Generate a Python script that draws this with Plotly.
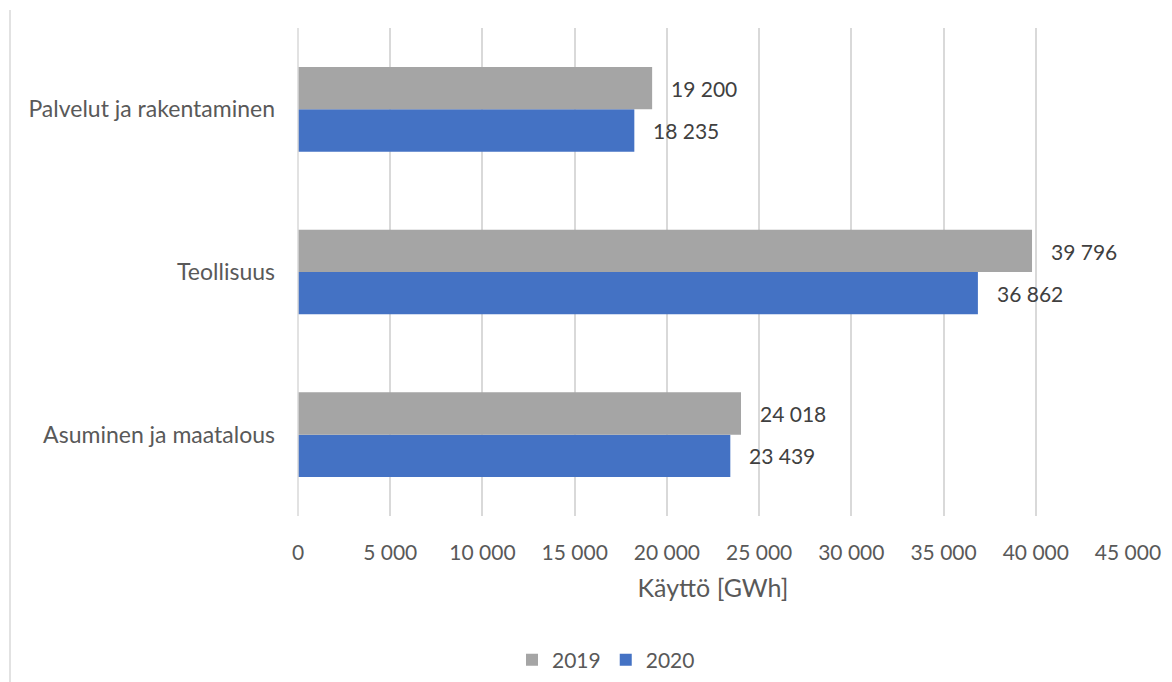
import plotly.graph_objects as go

categories = ["Asuminen ja maatalous", "Teollisuus", "Palvelut ja rakentaminen"]
values_2019 = [24018, 39796, 19200]
values_2020 = [23439, 36862, 18235]
tick_vals = [0, 5000, 10000, 15000, 20000, 25000, 30000, 35000, 40000, 45000]
tick_text = ["0", "5 000", "10 000", "15 000", "20 000", "25 000", "30 000", "35 000", "40 000", "45 000"]

def fmt(v):
    return f"{v:,}".replace(",", " ")

FONT = "Lato"
TXT = "#595959"
FS = 21

fig = go.Figure()
fig.add_trace(go.Bar(
    y=categories, x=values_2020, name="2020", orientation="h",
    marker=dict(color="#4472C4", line=dict(width=0)),
))
fig.add_trace(go.Bar(
    y=categories, x=values_2019, name="2019", orientation="h",
    marker=dict(color="#A5A5A5", line=dict(width=0)),
))

annotations = []
for cat, v in zip(categories, values_2019):
    annotations.append(dict(x=v, y=cat, xref="x", yref="y", text=fmt(v), showarrow=False,
                            xanchor="left", yanchor="middle", xshift=17, yshift=21,
                            font=dict(family=FONT, size=FS, color="#404040")))
for cat, v in zip(categories, values_2020):
    annotations.append(dict(x=v, y=cat, xref="x", yref="y", text=fmt(v), showarrow=False,
                            xanchor="left", yanchor="middle", xshift=17, yshift=-21,
                            font=dict(family=FONT, size=FS, color="#404040")))

fig.update_layout(
    width=1172, height=682,
    margin=dict(l=298, r=44, t=28, b=166, autoexpand=False),
    barmode="group", bargap=0.48, bargroupgap=0,
    plot_bgcolor="white", paper_bgcolor="white",
    font=dict(family=FONT, size=FS, color=TXT),
    showlegend=True,
    legend=dict(orientation="h", x=(606 - 298) / 830, xanchor="center", y=-(660 - 516) / 488, yanchor="middle",
                traceorder="reversed", font=dict(size=FS, color=TXT),
                itemwidth=30, entrywidthmode="pixels"),
    xaxis=dict(range=[0, 45000], tickvals=tick_vals, ticktext=tick_text, automargin=False,
               showgrid=True, gridcolor="#D9D9D9", gridwidth=1.5,
               zeroline=False, showline=False, ticks="", ticklabelstandoff=22,
               title=dict(text="Käyttö [GWh]", standoff=16, font=dict(size=25, color=TXT)),
               tickfont=dict(size=FS, color=TXT)),
    yaxis=dict(showgrid=False, ticks="", ticklabelstandoff=22, automargin=False,
               tickfont=dict(size=23, color=TXT), showline=False),
    annotations=annotations,
    shapes=[
        dict(type="line", xref="paper", yref="paper", x0=0, x1=0, y0=0, y1=1,
             line=dict(color="#D9D9D9", width=1.5)),
        dict(type="line", xref="paper", yref="paper",
             x0=(10 - 298) / 830, x1=(10 - 298) / 830, y0=-166 / 488, y1=(488 + 18) / 488,
             line=dict(color="#D9D9D9", width=1.5)),
    ],
)

fig.write_html("out.html")
